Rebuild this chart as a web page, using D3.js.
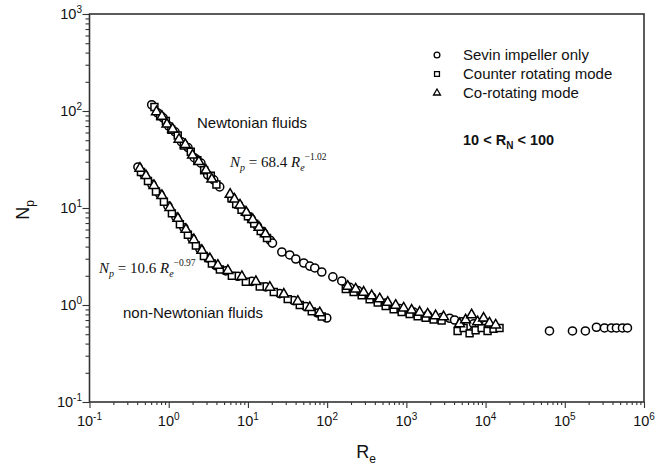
<!DOCTYPE html>
<html>
<head>
<meta charset="utf-8">
<script src="https://cdn.jsdelivr.net/npm/d3@7"></script>
<style>
  body { margin: 0; background: #fff; }
  svg text { font-family: "Liberation Sans", Arial, sans-serif; fill: #111; }
</style>
</head>
<body>
<svg id="chart" width="667" height="470"></svg>
<script>
// Sevin impeller only (circles)
const sevinRe = [
  0.61, 0.72, 0.85, 1.0, 1.2, 1.45, 1.75, 2.1, 2.55, 3.1, 3.7, 4.4,
  6.3, 7.6, 9.1, 11.0, 13.2, 15.8, 19.1, 20.4,
  26.8, 33.7, 40.2, 50.7, 60.4, 69.8, 85.5, 118, 153,
  193, 243, 365, 548, 824, 1236, 1856, 2787, 3520,
  4065, 4980, 5930, 7060, 8400, 10000, 11900,
  64100, 125000, 182000, 251000, 317000, 388000, 449000, 535000, 618000,
  0.409, 0.487, 0.614, 0.774, 0.977, 1.233, 1.555, 1.962, 2.474, 3.12, 3.937, 5.264, 7.46, 11.2, 16.8, 25.2, 37.9, 53.7, 76.1, 98.8
]
const sevinNp = [
  116, 96, 85, 70, 61, 48, 42, 33, 29, 22, 19.5, 16.5,
  12.8, 10.8, 9.1, 7.7, 6.5, 5.5, 4.65, 4.35,
  3.52, 3.28, 2.98, 2.71, 2.52, 2.41, 2.19, 1.95, 1.77,
  1.52, 1.41, 1.21, 1.05, 0.92, 0.845, 0.787, 0.742, 0.73,
  0.70, 0.67, 0.61, 0.64, 0.61, 0.62, 0.59,
  0.54, 0.54, 0.54, 0.59, 0.58, 0.58, 0.58, 0.58, 0.58,
  26.5, 22.2, 17.5, 13.8, 10.5, 8.04, 6.26, 4.84, 3.77, 3.05, 2.55, 2.25, 1.98, 1.75, 1.54, 1.31, 1.11, 0.965, 0.827, 0.735
]

// Counter rotating mode (squares)
const counterRe = [
  0.66, 0.78, 0.92, 1.08, 1.3, 1.55, 1.9, 2.3, 2.8, 3.4, 4.0,
  6.2, 7.1, 8.3, 10, 12, 14.5, 17.4,
  172, 216, 273, 344, 435, 548, 691, 872, 1100, 1388, 1751, 2209, 2787,
  4436, 5280, 6280, 7480, 8910, 10600, 12600, 15000,
  0.446, 0.547, 0.690, 0.870, 1.097, 1.384, 1.746, 2.203, 2.78, 3.506, 4.424, 6.265, 9.41, 14.1, 21.2, 31.8, 45.1, 63.9, 85.5
]
const counterNp = [
  110, 88, 79, 64, 56, 44, 38, 31, 24.5, 21.5, 17.5,
  12.6, 11.0, 9.6, 8.2, 6.9, 5.8, 4.9,
  1.46, 1.36, 1.256, 1.148, 1.063, 0.974, 0.905, 0.845, 0.806, 0.766, 0.740, 0.710, 0.690,
  0.54, 0.58, 0.51, 0.55, 0.58, 0.54, 0.57, 0.58,
  23.5, 19.0, 14.8, 11.6, 8.8, 6.8, 5.3, 4.1, 3.2, 2.68, 2.32, 2.0, 1.74, 1.55, 1.36, 1.15, 1.0, 0.86, 0.76
]

// Co-rotating mode (triangles)
const coRe = [
  0.7, 0.82, 0.95, 1.12, 1.35, 1.62, 2.0, 2.4, 2.95, 3.5,
  5.96, 6.76, 7.94, 9.55, 11.5, 13.8, 16.6,
  182, 229, 289, 365, 461, 581, 733, 924, 1166, 1471, 1856, 2340, 2951,
  4700, 5600, 6660, 7930, 9440, 11200, 13400,
  0.433, 0.516, 0.651, 0.821, 1.035, 1.306, 1.648, 2.079, 2.623, 3.308, 4.173, 5.58, 8.38, 12.6, 18.9, 28.4, 42.6, 60.3, 80.6
]
const coNp = [
  98, 88, 73, 65, 51, 45, 35, 30, 24.5, 19.8,
  13.8, 12.3, 10.7, 9.0, 7.6, 6.3, 5.4,
  1.556, 1.458, 1.352, 1.244, 1.156, 1.063, 0.991, 0.929, 0.884, 0.841, 0.806, 0.774, 0.756,
  0.64, 0.70, 0.79, 0.67, 0.73, 0.65, 0.62,
  25.6, 21.5, 17.0, 13.4, 10.1, 7.8, 6.0, 4.7, 3.65, 3.0, 2.56, 2.26, 1.96, 1.74, 1.52, 1.29, 1.09, 0.94, 0.83
]

const legendLabels = ["Sevin impeller only", "Counter rotating mode", "Co-rotating mode"]
const xTicks = [0.1, 1, 10, 100, 1e3, 1e4, 1e5, 1e6]
const yTicks = [0.1, 1, 10, 100, 1000]

const svg = d3.select("#chart")
const x = d3.scaleLog().domain([0.1, 1e6]).range([89.5, 644])
const y = d3.scaleLog().domain([0.1, 1000]).range([402, 14])

function minorTicks(lo, hi) {
  const out = []
  for (let e = lo; e < hi; e++)
    for (let k = 2; k < 10; k++) out.push(k * Math.pow(10, e))
  return out
}

// axes
svg.append("g").attr("transform", "translate(0,402)")
  .call(d3.axisBottom(x).tickValues(minorTicks(-1, 6)).tickSize(3).tickFormat(""))
svg.append("g").attr("transform", "translate(0,402)")
  .call(d3.axisBottom(x).tickValues(xTicks).tickSize(6).tickFormat(""))
svg.append("g").attr("transform", "translate(89.5,0)")
  .call(d3.axisLeft(y).tickValues(minorTicks(-1, 3)).tickSize(4).tickFormat(""))
svg.append("g").attr("transform", "translate(89.5,0)")
  .call(d3.axisLeft(y).tickValues(yTicks).tickSize(7).tickFormat(""))
svg.selectAll(".domain").remove()
svg.selectAll(".tick line").attr("stroke", "#333").attr("stroke-width", 1.1)

svg.append("rect")
  .attr("x", 89.5).attr("y", 14)
  .attr("width", 644 - 89.5).attr("height", 402 - 14)
  .attr("fill", "none").attr("stroke", "#333").attr("stroke-width", 1.6)

function powLabel(t, d) {
  const e = Math.round(Math.log10(d))
  t.append("tspan").text("10")
  t.append("tspan").attr("dy", -6).attr("font-size", 10).text(e)
}

svg.append("g").selectAll("text")
  .data(xTicks).enter().append("text")
  .attr("x", d => x(d)).attr("y", 426)
  .attr("text-anchor", "middle").attr("font-size", 14.5)
  .each(function (d) { powLabel(d3.select(this), d) })

svg.append("g").selectAll("text")
  .data(yTicks).enter().append("text")
  .attr("x", 82).attr("y", d => y(d) + 5)
  .attr("text-anchor", "end").attr("font-size", 14.5)
  .each(function (d) { powLabel(d3.select(this), d) })

// axis titles
const yTitle = svg.append("text")
  .attr("transform", "translate(29,210) rotate(-90)")
  .attr("text-anchor", "middle").attr("font-size", 18)
yTitle.append("tspan").text("N")
yTitle.append("tspan").attr("dy", 5).attr("font-size", 12).text("p")

const xTitle = svg.append("text")
  .attr("x", 366).attr("y", 458)
  .attr("text-anchor", "middle").attr("font-size", 18)
xTitle.append("tspan").text("R")
xTitle.append("tspan").attr("dy", 5).attr("font-size", 12).text("e")

// markers
const series = [
  { re: sevinRe, np: sevinNp, type: d3.symbolCircle, size: 52 },
  { re: counterRe, np: counterNp, type: d3.symbolSquare, size: 48 },
  { re: coRe, np: coNp, type: d3.symbolTriangle, size: 42 }
]

series.forEach(s => {
  const pts = s.re.map((r, i) => ({ re: r, np: s.np[i] }))
  svg.append("g").selectAll("path")
    .data(pts).enter().append("path")
    .attr("transform", d => `translate(${x(d.re)},${y(d.np)})`)
    .attr("d", d3.symbol().type(s.type).size(s.size))
    .attr("fill", "#fff").attr("stroke", "#000").attr("stroke-width", 1.5)
})

// legend
const legend = svg.append("g")
legendLabels.forEach((label, i) => {
  const yy = 60 + i * 19
  legend.append("path")
    .attr("transform", `translate(437,${yy - 5})`)
    .attr("d", d3.symbol().type(series[i].type).size(series[i].size * 0.5))
    .attr("fill", "#fff").attr("stroke", "#000").attr("stroke-width", 1.3)
  legend.append("text").attr("x", 463).attr("y", yy).attr("font-size", 15).text(label)
})

const rn = svg.append("text").attr("x", 463).attr("y", 145)
  .attr("font-size", 14.5).attr("font-weight", "bold")
rn.append("tspan").text("10 < R")
rn.append("tspan").attr("dy", 4).attr("font-size", 10).text("N")
rn.append("tspan").attr("dy", -4).text(" < 100")

// annotations (drawn over markers)
svg.append("text").attr("x", 197).attr("y", 128).attr("font-size", 15).text("Newtonian fluids")
svg.append("text").attr("x", 123).attr("y", 318).attr("font-size", 15).text("non-Newtonian fluids")

function equation(x0, y0, coef, expo) {
  const t = svg.append("text").attr("x", x0).attr("y", y0)
    .attr("font-size", 15).style("font-family", '"Liberation Serif", "Times New Roman", serif')
  t.append("tspan").attr("font-style", "italic").text("N")
  t.append("tspan").attr("font-style", "italic").attr("font-size", 10).attr("dy", 4).text("p")
  t.append("tspan").attr("dy", -4).text(" = " + coef + " ")
  t.append("tspan").attr("font-style", "italic").text("R")
  t.append("tspan").attr("font-style", "italic").attr("font-size", 10).attr("dy", 4).text("e")
  t.append("tspan").attr("font-size", 9.5).attr("dy", -11).text(expo)
}
equation(230, 167, "68.4", "\u22121.02")
equation(99, 273, "10.6", "\u22120.97")
</script>
</body>
</html>
